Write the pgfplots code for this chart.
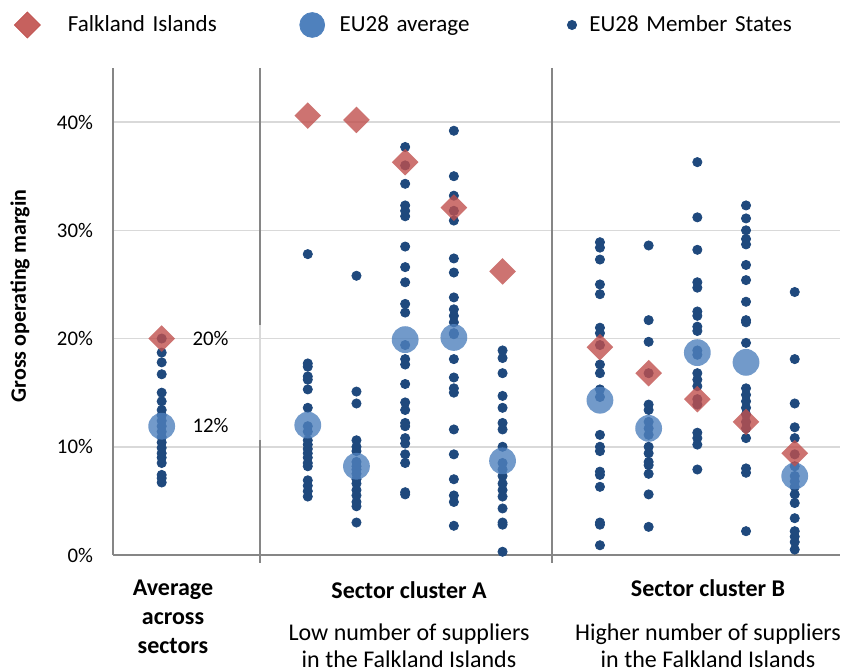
\documentclass[border=0pt]{standalone}
\usepackage{pgfplots}
\pgfplotsset{compat=1.18}
\usepackage{pgfplotstable}
\usepackage{fontspec}
\setmainfont{Carlito}

\definecolor{memberblue}{HTML}{1F497D}
\definecolor{avgblue}{HTML}{4F81BD}
\definecolor{fkred}{HTML}{C0504D}
\definecolor{axisgray}{HTML}{868686}
\definecolor{gridgray}{HTML}{D9D9D9}

% EU28 member states, one row per country and sector (x = column)
\pgfplotstableread{
x y
1 18.7
1 17.8
1 16.7
1 15.0
1 14.2
1 13.4
1 12.9
1 12.4
1 11.9
1 11.4
1 10.9
1 10.4
1 9.9
1 9.4
1 9.0
1 8.5
1 7.4
1 7.1
1 6.7
1 20.0
4 27.8
4 17.7
4 17.4
4 16.5
4 16.2
4 15.3
4 13.6
4 11.9
4 11.4
4 10.6
4 10.2
4 9.8
4 9.4
4 9.0
4 8.5
4 8.2
4 6.9
4 6.4
4 5.9
4 5.4
5 25.8
5 15.1
5 14.0
5 10.6
5 10.0
5 9.6
5 8.6
5 8.2
5 7.9
5 7.5
5 7.0
5 6.6
5 6.0
5 5.5
5 4.9
5 4.5
5 3.0
6 37.7
6 36.0
6 34.3
6 32.3
6 31.8
6 31.3
6 28.5
6 26.6
6 25.2
6 23.2
6 22.4
6 19.4
6 18.1
6 17.6
6 15.8
6 14.1
6 13.4
6 12.2
6 11.9
6 10.8
6 10.3
6 9.3
6 8.5
6 5.8
6 5.6
7 39.2
7 35.0
7 33.2
7 31.8
7 30.9
7 27.4
7 26.1
7 23.8
7 22.7
7 22.1
7 21.5
7 20.5
7 20.4
7 18.1
7 16.4
7 15.4
7 15.0
7 11.6
7 9.3
7 7.0
7 5.5
7 4.9
7 2.7
8 18.9
8 18.2
8 16.8
8 14.7
8 13.6
8 12.2
8 11.6
8 10.0
8 8.5
8 7.9
8 7.3
8 6.6
8 6.0
8 5.4
8 4.3
8 3.0
8 2.8
8 0.3
10 28.9
10 28.4
10 27.3
10 25.0
10 24.1
10 21.0
10 20.5
10 19.4
10 17.6
10 16.8
10 15.3
10 14.6
10 11.1
10 10.0
10 9.6
10 7.7
10 7.4
10 6.3
10 3.0
10 2.8
10 0.9
11 28.6
11 21.7
11 19.7
11 16.8
11 13.9
11 13.4
11 12.3
11 11.7
11 11.1
11 10.0
11 9.4
11 8.6
11 8.3
11 7.5
11 5.6
11 2.6
12 36.3
12 31.2
12 28.2
12 25.2
12 24.7
12 22.5
12 22.1
12 21.1
12 20.7
12 18.9
12 18.5
12 16.8
12 16.2
12 15.6
12 14.4
12 13.9
12 11.3
12 10.8
12 10.2
12 7.9
13 32.3
13 31.1
13 30.0
13 29.2
13 28.7
13 26.8
13 25.4
13 23.4
13 21.7
13 21.5
13 19.6
13 15.4
13 14.8
13 14.2
13 13.6
13 13.0
13 12.3
13 11.7
13 10.8
13 8.0
13 7.6
13 2.2
14 24.3
14 18.1
14 14.0
14 11.8
14 10.8
14 9.3
14 8.2
14 7.3
14 6.8
14 6.3
14 5.6
14 4.8
14 3.4
14 2.2
14 1.7
14 1.2
14 0.5
}\members

\pgfplotstableread{
x y
1 11.9
4 12.0
5 8.2
6 19.9
7 20.1
8 8.7
10 14.3
11 11.7
12 18.7
13 17.8
14 7.3
}\euavg

\pgfplotstableread{
x y
1 20.0
4 40.6
5 40.2
6 36.3
7 32.1
8 26.2
10 19.2
11 16.8
12 14.4
13 12.3
14 9.4
}\falklands

\begin{document}
\begin{tikzpicture}[font=\fontsize{10.4}{12.5}\selectfont]
\begin{axis}[
    scale only axis,
    width=363.5pt, height=243.5pt,
    xmin=0, xmax=14.93,
    ymin=0, ymax=45,
    axis x line*=bottom,
    axis y line*=left,
    axis line style={axisgray, line width=0.8pt, -},
    xtick=\empty,
    ytick={0,10,20,30,40},
    yticklabel={\pgfmathprintnumber{\tick}\%},
    /pgf/number format/assume math mode=true,
    yticklabel style={xshift=-6.5pt},
    major tick length=0pt,
    ymajorgrids,
    grid style={gridgray, line width=0.8pt},
    clip=false,
    legend columns=3,
    legend cell align=left,
    legend style={at={(axis description cs:-0.1458,1.0883)}, anchor=west,
        draw=none, fill=none, inner sep=0pt, outer sep=0pt,
        font=\fontsize{11.5}{14}\selectfont,
        nodes={inner sep=0pt, text width=110pt, align=left},
        /tikz/column sep=0pt},
]
\addplot[only marks, mark=*, mark size=2.3pt, color=memberblue,
    forget plot] table {\members};
\addplot[only marks, mark=*, mark size=6.7pt,
    mark options={draw=avgblue, draw opacity=0, fill=avgblue, fill opacity=0.8},
    forget plot] table {\euavg};
\addplot[only marks, mark=square*, mark size=4.7pt,
    mark options={rotate=45, draw=fkred, draw opacity=0, fill=fkred, fill opacity=0.8},
    forget plot] table {\falklands};

% legend entries
\addlegendimage{legend image code/.code={
    \path (-10pt,0pt) (20pt,0pt);
    \fill[fkred, fill opacity=0.9, rotate=45] (-4.6pt,-4.6pt) rectangle (4.6pt,4.6pt);}}
\addlegendentry{Falkland Islands}
\addlegendimage{legend image code/.code={
    \path (-12pt,0pt) (13.5pt,0pt);
    \fill[avgblue] (0pt,0pt) circle (6.2pt);}}
\addlegendentry{EU28 average}
\addlegendimage{legend image code/.code={
    \path (-6pt,0pt) (8.5pt,0pt);
    \fill[memberblue] (0pt,0pt) circle (2.3pt);}}
\addlegendentry{EU28 Member States}

\node[anchor=west, inner sep=0pt] at (axis cs:1.625,20) {20\%};
\node[anchor=west, inner sep=0pt] at (axis cs:1.625,12) {12\%};
\end{axis}

% sector dividers
\draw[axisgray, line width=0.8pt] (73.5pt,243.5pt) -- (73.5pt,115pt);
\draw[gridgray, line width=0.8pt] (73.5pt,115pt) -- (73.5pt,57.5pt);
\draw[axisgray, line width=0.8pt] (73.5pt,57.5pt) -- (73.5pt,-4pt);
\draw[axisgray, line width=0.8pt] (219.5pt,243.5pt) -- (219.5pt,-4pt);

% axis title
\node[rotate=90, font=\fontsize{11}{13}\selectfont\bfseries] at (-46.5pt,129.5pt) {Gross operating margin};

% group labels
\node[align=center, font=\fontsize{12}{14.5}\selectfont\bfseries, inner sep=0pt] at (30pt,-31pt) {Average\\across\\sectors};
\node[font=\fontsize{12}{14}\selectfont\bfseries, inner sep=0pt] at (148pt,-17.5pt) {Sector cluster A};
\node[font=\fontsize{12}{14}\selectfont\bfseries, inner sep=0pt] at (297.5pt,-16.5pt) {Sector cluster B};
\node[align=center, font=\fontsize{12}{13.5}\selectfont, anchor=north, inner sep=0pt] at (148pt,-34pt) {Low number of suppliers\\in the Falkland Islands};
\node[align=center, font=\fontsize{12}{13.5}\selectfont, anchor=north, inner sep=0pt] at (297.5pt,-34pt) {Higher number of suppliers\\in the Falkland Islands};

\pgfresetboundingbox
\path[use as bounding box] (-56.5pt,-58.5pt) rectangle (365.5pt,277.5pt);
\end{tikzpicture}
\end{document}
